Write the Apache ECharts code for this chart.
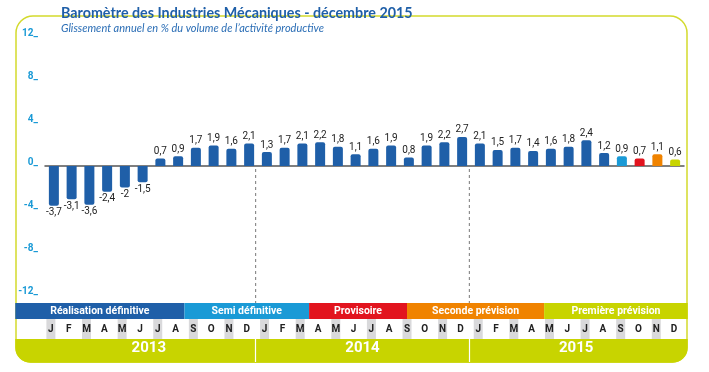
<!DOCTYPE html>
<html><head><meta charset="utf-8">
<script src="https://cdn.jsdelivr.net/npm/echarts@6/dist/echarts.min.js"></script>
<style>html,body{margin:0;padding:0;background:#fff}#c{width:709px;height:372px}</style>
</head><body><div id="c"></div>
<script>
// ---------------- data ----------------
const titleText = 'Baromètre des Industries Mécaniques - décembre 2015';
const subtitleText = 'Glissement annuel en % du volume de l\u2019activité productive';
const monthLetters = ['J','F','M','A','M','J','J','A','S','O','N','D'];
const years = ['2013', '2014', '2015'];
const values2013 = [-3.7, -3.1, -3.6, -2.4, -2, -1.5, 0.7, 0.9, 1.7, 1.9, 1.6, 2.1];
const values2014 = [1.3, 1.7, 2.1, 2.2, 1.8, 1.1, 1.6, 1.9, 0.8, 1.9, 2.2, 2.7];
const values2015 = [2.1, 1.5, 1.7, 1.4, 1.6, 1.8, 2.4, 1.2, 0.9, 0.7, 1.1, 0.6];
const yMin = -12, yMax = 12, yStep = 4;
const phaseNames = ['Réalisation définitive', 'Semi définitive', 'Provisoire', 'Seconde prévision', 'Première prévision'];
const phaseEnds = [8, 15, 20.5, 28.2, 36]; // in months from Jan 2013

// ---------------- styles ----------------
const BLUE = '#1f5fa8';
const phaseColors = ['#1f5fa8', '#1a9ad6', '#e2141e', '#f08300', '#c8d400'];
const lastBarColors = ['#1a9ad6', '#e2141e', '#f08300', '#c8d400']; // last four months
const LIME = '#c8d400';
const FRAME = '#d3da2c';

const months = [].concat(...years.map(() => monthLetters));
const values = [].concat(values2013, values2014, values2015);
const nFirst = values.length - lastBarColors.length;

const chart = echarts.init(document.getElementById('c'), null, {renderer: 'canvas'});

const fmt = v => String(v).replace('.', ',');

chart.setOption({
  animation: false,
  backgroundColor: '#fff',
  title: {
    text: titleText, subtext: subtitleText,
    left: 56, top: 1, itemGap: 3,
    textStyle: {fontFamily: 'Lato', fontWeight: 'bold', fontSize: 14.3, color: BLUE},
    subtextStyle: {fontFamily: 'Lato', fontStyle: 'italic', fontSize: 11, color: '#2a6db5'}
  },
  grid: [
    {left: 45, right: 25, top: 37, bottom: 77},
    {left: 42, right: 26, top: 319, height: 20},
    {left: 42, right: 26, top: 339, height: 23}
  ],
  xAxis: [
    {type: 'category', gridIndex: 0, data: months,
     axisLine: {onZero: true, lineStyle: {color: '#555', width: 1.5}},
     axisTick: {show: false}, axisLabel: {show: false}, splitLine: {show: false}},
    {type: 'category', gridIndex: 1, data: months, position: 'bottom',
     axisLine: {show: false}, axisTick: {show: false},
     axisLabel: {show: true, interval: 0, inside: true, margin: 0, verticalAlign: 'bottom',
       formatter: (v, i) => (i % 2 === 0 ? '{g|' : '{w|') + v + '}',
       rich: {
         g: {backgroundColor: '#d9d9db', width: 9, height: 20, lineHeight: 20, align: 'center',
             fontFamily: 'Roboto', fontWeight: 'bold', fontSize: 10, color: '#222'},
         w: {width: 9, height: 20, lineHeight: 20, align: 'center',
             fontFamily: 'Roboto', fontWeight: 'bold', fontSize: 10, color: '#222'}
       }}},
    {type: 'category', gridIndex: 2, data: years, position: 'bottom',
     axisLine: {show: false}, axisTick: {show: false},
     splitLine: {show: true, showMinLine: false, showMaxLine: false, lineStyle: {color: '#fff', width: 1.2}},
     axisLabel: {show: true, inside: true, margin: 6, fontFamily: 'Roboto', fontWeight: 'bold',
       fontSize: 15, color: '#fff'}}
  ],
  yAxis: [
    {type: 'value', gridIndex: 0, min: yMin, max: yMax, interval: yStep,
     axisLine: {show: false}, axisTick: {show: false}, splitLine: {show: false},
     axisLabel: {margin: 7, verticalAlign: 'bottom', lineHeight: 7, formatter: '{value}_', fontFamily: 'Roboto',
       fontWeight: 'bold', fontSize: 10, color: '#1a9ad6'}},
    {type: 'value', gridIndex: 1, show: false},
    {type: 'value', gridIndex: 2, show: false}
  ],
  series: [{
    type: 'bar', xAxisIndex: 0, yAxisIndex: 0, barWidth: 10, z: 3,
    data: values.map((v, i) => ({
      value: v,
      itemStyle: {color: i >= nFirst ? lastBarColors[i - nFirst] : BLUE,
                  borderRadius: v >= 0 ? [2, 2, 0, 0] : [0, 0, 2, 2]},
      label: {position: v >= 0 ? 'top' : 'bottom'}
    })),
    label: {show: true, formatter: p => fmt(p.value), distance: 2,
      fontFamily: 'Roboto', fontSize: 10, color: '#222'}
  }]
});

// ---------- decorations computed from the month axis ----------
const px = i => chart.convertToPixel({xAxisIndex: 1}, i);
const cat = px(1) - px(0);
const x0 = px(0) - cat / 2;
const mx = m => x0 + m * cat;
const y0 = chart.convertToPixel({yAxisIndex: 0}, 0);

const FL = 16, FR = 687, FT = 16, FB = 362;
const bandTop = 303, bandBot = 319, monthBot = 339;

const g = [];
// frame
g.push({type: 'rect', z: -5, shape: {x: FL, y: FT, width: FR - FL, height: FB - FT, r: [17, 17, 15, 15]},
  style: {fill: null, stroke: FRAME, lineWidth: 1.5}});
// year band background
g.push({type: 'rect', z: -4, shape: {x: FL - 0.75, y: monthBot, width: FR - FL + 1.5, height: FB - monthBot + 0.75, r: [0, 0, 15, 15]},
  style: {fill: LIME}});
// phase bands
let start = 0;
phaseEnds.forEach((end, k) => {
  const xa = k === 0 ? FL - 0.75 : mx(start);
  const xb = k === phaseEnds.length - 1 ? FR + 0.75 : mx(end);
  g.push({type: 'rect', z: -3, shape: {x: xa, y: bandTop, width: xb - xa, height: bandBot - bandTop},
    style: {fill: phaseColors[k]}});
  g.push({type: 'text', z: 20, style: {text: phaseNames[k], x: (xa + xb) / 2, y: (bandTop + bandBot) / 2 + 0.5,
    align: 'center', verticalAlign: 'middle', fill: '#fff', font: 'bold 10.5px Roboto'}});
  start = end;
});
// year separators (dashed)
[12, 24].forEach(m => {
  g.push({type: 'line', z: 1, shape: {x1: mx(m), y1: y0 + 3, x2: mx(m), y2: bandTop},
    style: {stroke: '#777', lineWidth: 1, lineDash: [3, 3]}});
});
chart.setOption({graphic: {elements: g}});
</script>
</body></html>
